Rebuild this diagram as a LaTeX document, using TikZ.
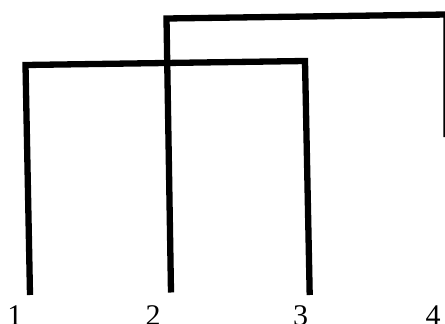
\documentclass[tikz,border=0pt]{standalone}
\usepackage{fontspec}
\setmainfont{Liberation Serif}
\begin{document}
\begin{tikzpicture}[x=1pt,y=-1pt,
  link/.style={line width=6.3pt,line join=miter,line cap=butt,black},
  leaf/.style={font=\fontsize{30}{30}\selectfont,inner sep=0pt,anchor=base}]
\useasboundingbox (0,0) rectangle (445,324);
\clip (0,0) rectangle (445,324);
% leaves
\node[leaf] (l1) at (15,325) {1};
\node[leaf] (l2) at (153,325) {2};
\node[leaf] (l3) at (300.5,325) {3};
\node[leaf] (l4) at (433,325) {4};
% cluster 1-3
\coordinate (a1) at (30,295);
\coordinate (a2) at (25.5,65);
\coordinate (a3) at (305,61);
\coordinate (a4) at (309.7,295);
\draw[link] (a1) -- (a2) -- (a3) -- (a4);
% cluster 2-4
\coordinate (b1) at (171,292.5);
\coordinate (b2) at (166.5,18.5);
\coordinate (b3) at (446.5,14.5);
\coordinate (b4) at (446.5,137);
\draw[link] (b1) -- (b2) -- (b3) -- (b4);
\end{tikzpicture}
\end{document}
